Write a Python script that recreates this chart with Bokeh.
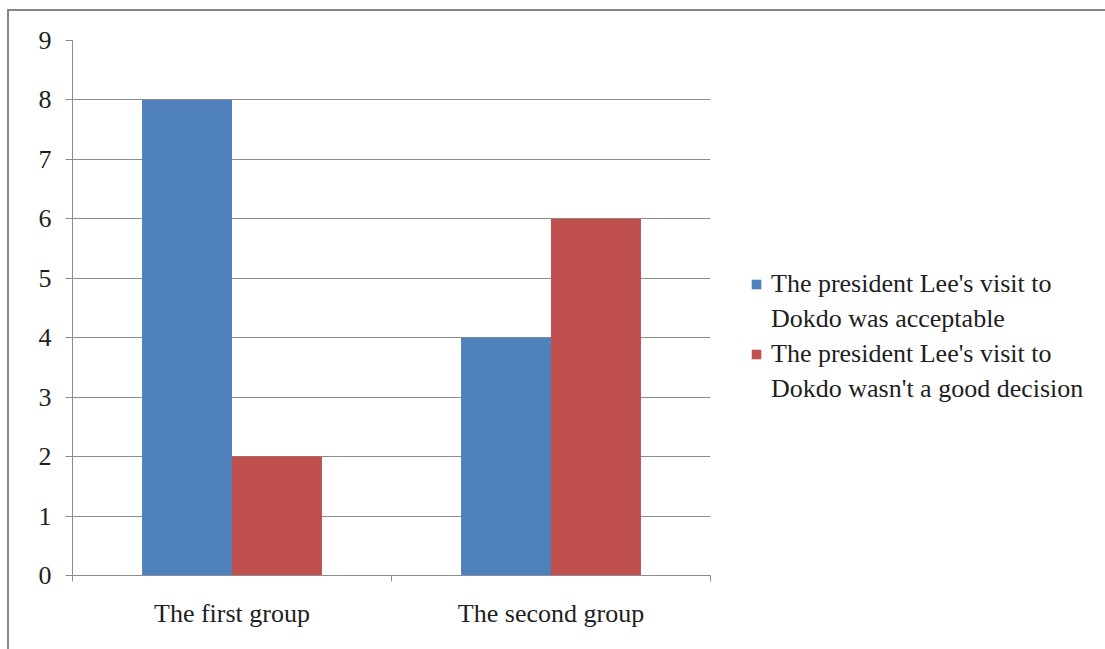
from bokeh.plotting import figure
from bokeh.models import Range1d, FixedTicker, Legend, LegendItem, ColumnDataSource
from bokeh.embed import file_html
from bokeh.resources import INLINE

# Survey results per group
groups = ["The first group", "The second group"]
series_names = [
    "The president Lee's visit to\nDokdo was acceptable",
    "The president Lee's visit to\nDokdo wasn't a good decision",
]
acceptable = [8, 4]
not_good = [2, 6]
y_ticks = [0, 1, 2, 3, 4, 5, 6, 7, 8, 9]

BLUE = "#4F81BD"
RED = "#C0504D"
GRID = "#8c8c8c"
FONT = "Liberation Serif"
FONT_SIZE = "26px"
TEXT = "#1e1e1e"

bar_w = 0.282
centers = [i + 0.5 for i in range(len(groups))]

src = ColumnDataSource(dict(
    x_a=[c - bar_w / 2 for c in centers],
    x_b=[c + bar_w / 2 for c in centers],
    acceptable=acceptable,
    not_good=not_good,
))

p = figure(frame_width=638, frame_height=535, output_backend="svg",
           toolbar_location=None,
           x_range=Range1d(0, len(groups)), y_range=Range1d(0, max(y_ticks)),
           min_border_left=63, min_border_right=0, min_border_top=29,
           min_border_bottom=74)
p.outline_line_color = None
p.background_fill_color = "white"
p.border_fill_color = "white"
# chart border along the top and left edges
p.styles = {"border-top": "2px solid #858585", "border-left": "2px solid #858585",
            "margin-left": "7px", "margin-top": "9px"}

r_a = p.vbar(x="x_a", top="acceptable", width=bar_w, source=src,
             fill_color=BLUE, line_color=None)
r_b = p.vbar(x="x_b", top="not_good", width=bar_w, source=src,
             fill_color=RED, line_color=None)
# empty placeholder so continuation lines of legend labels get no swatch
r_blank = p.vbar(x=[], top=[], width=bar_w, fill_alpha=0, line_alpha=0)

# grid
p.xgrid.visible = False
p.ygrid.ticker = FixedTicker(ticks=y_ticks)
p.ygrid.grid_line_color = GRID
p.ygrid.grid_line_width = 1

# y axis
p.yaxis.ticker = FixedTicker(ticks=y_ticks)
p.yaxis.axis_line_color = GRID
p.yaxis.major_tick_line_color = GRID
p.yaxis.major_tick_in = 0
p.yaxis.major_tick_out = 7
p.yaxis.minor_tick_line_color = None
p.yaxis.major_label_text_font = FONT
p.yaxis.major_label_text_font_size = FONT_SIZE
p.yaxis.major_label_text_color = TEXT
p.yaxis.major_label_standoff = 14

# x axis: labels at group centres, tick marks at group boundaries
p.xaxis.ticker = FixedTicker(ticks=centers,
                             minor_ticks=list(range(len(groups) + 1)))
p.xaxis.major_label_overrides = {c: g for c, g in zip(centers, groups)}
p.xaxis.axis_line_color = GRID
p.xaxis.major_tick_line_color = None
p.xaxis.minor_tick_line_color = GRID
p.xaxis.minor_tick_in = 0
p.xaxis.minor_tick_out = 6
p.xaxis.major_label_text_font = FONT
p.xaxis.major_label_text_font_size = FONT_SIZE
p.xaxis.major_label_text_color = TEXT
p.xaxis.major_label_standoff = 17

items = []
for name, rend in zip(series_names, [r_a, r_b]):
    first, *rest = name.split("\n")
    items.append(LegendItem(label=first, renderers=[rend]))
    for line in rest:
        items.append(LegendItem(label=line, renderers=[r_blank]))

legend = Legend(items=items, location=(40, 171))
legend.border_line_color = None
legend.background_fill_alpha = 0
legend.padding = 0
legend.margin = 0
legend.spacing = 5
legend.glyph_width = 12
legend.glyph_height = 12
legend.label_standoff = 9
legend.label_text_font = FONT
legend.label_text_font_size = FONT_SIZE
legend.label_text_color = TEXT
p.add_layout(legend, "right")

open("out.html", "w").write(file_html(p, INLINE))
